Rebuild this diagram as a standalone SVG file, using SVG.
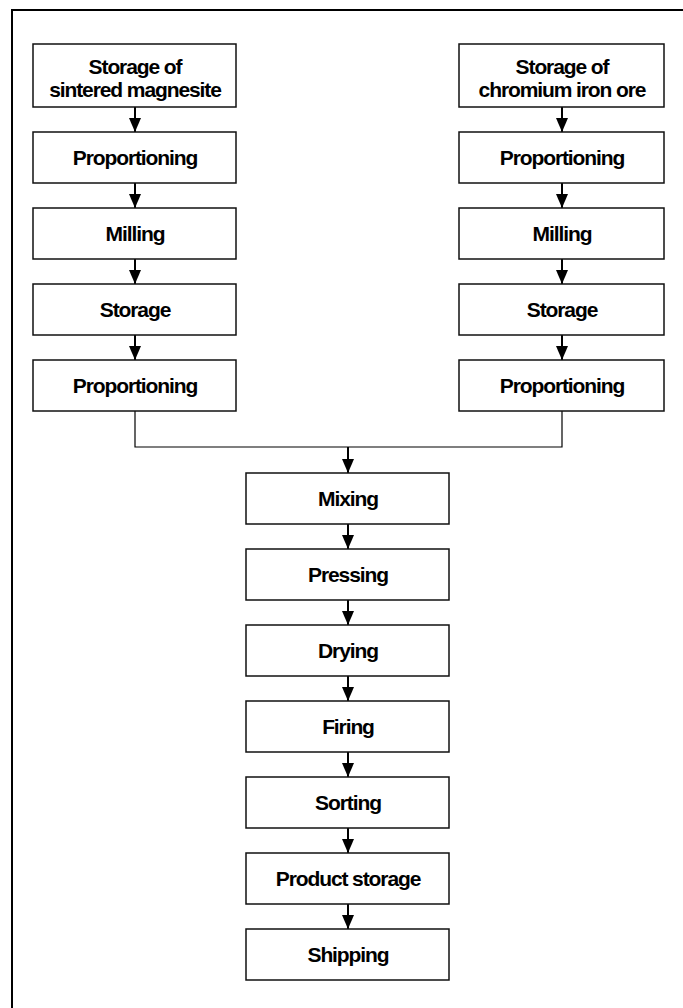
<svg xmlns="http://www.w3.org/2000/svg" width="683" height="1008" viewBox="0 0 683 1008">
<style>
.box{fill:#fff;stroke:#111;stroke-width:1.5}
.lbl{font-family:"Liberation Sans",Arial,sans-serif;font-weight:bold;font-size:21px;letter-spacing:-1.1px;fill:#000;text-anchor:middle}
.arr{stroke:#000;stroke-width:2;fill:none}
.thin{stroke:#000;stroke-width:1.2;fill:none}
</style>
<defs>
<marker id="ah" markerUnits="userSpaceOnUse" markerWidth="14" markerHeight="12" refX="14" refY="6" orient="auto" viewBox="0 0 14 12">
<path d="M0,0 L14,6 L0,12 Z" fill="#000"/>
</marker>
</defs>
<g id="frame">
<line x1="12" y1="10" x2="683" y2="10" stroke="#000" stroke-width="2"/>
<line x1="12" y1="9" x2="12" y2="1008" stroke="#000" stroke-width="2"/>
</g>
<g id="connectors">
<line class="arr" x1="135" y1="107" x2="135" y2="132" marker-end="url(#ah)"/>
<line class="arr" x1="135" y1="183" x2="135" y2="208" marker-end="url(#ah)"/>
<line class="arr" x1="135" y1="259" x2="135" y2="284" marker-end="url(#ah)"/>
<line class="arr" x1="135" y1="335" x2="135" y2="360" marker-end="url(#ah)"/>
<line class="arr" x1="562" y1="107" x2="562" y2="132" marker-end="url(#ah)"/>
<line class="arr" x1="562" y1="183" x2="562" y2="208" marker-end="url(#ah)"/>
<line class="arr" x1="562" y1="259" x2="562" y2="284" marker-end="url(#ah)"/>
<line class="arr" x1="562" y1="335" x2="562" y2="360" marker-end="url(#ah)"/>
<path class="thin" d="M135,411 V447 H562 V411"/>
<line class="arr" x1="348" y1="447" x2="348" y2="473" marker-end="url(#ah)"/>
<line class="arr" x1="348" y1="524" x2="348" y2="549" marker-end="url(#ah)"/>
<line class="arr" x1="348" y1="600" x2="348" y2="625" marker-end="url(#ah)"/>
<line class="arr" x1="348" y1="676" x2="348" y2="701" marker-end="url(#ah)"/>
<line class="arr" x1="348" y1="752" x2="348" y2="777" marker-end="url(#ah)"/>
<line class="arr" x1="348" y1="828" x2="348" y2="853" marker-end="url(#ah)"/>
<line class="arr" x1="348" y1="904" x2="348" y2="929" marker-end="url(#ah)"/>
</g>
<g id="l1"><rect class="box" x="33" y="44" width="203" height="63"/><text class="lbl" x="135" y="74">Storage of</text><text class="lbl" x="135" y="97">sintered magnesite</text></g>
<g id="l2"><rect class="box" x="33" y="132" width="203" height="51"/><text class="lbl" x="135" y="165">Proportioning</text></g>
<g id="l3"><rect class="box" x="33" y="208" width="203" height="51"/><text class="lbl" x="135" y="241">Milling</text></g>
<g id="l4"><rect class="box" x="33" y="284" width="203" height="51"/><text class="lbl" x="135" y="317">Storage</text></g>
<g id="l5"><rect class="box" x="33" y="360" width="203" height="51"/><text class="lbl" x="135" y="393">Proportioning</text></g>
<g id="r1"><rect class="box" x="459" y="44" width="205" height="63"/><text class="lbl" x="562" y="74">Storage of</text><text class="lbl" x="562" y="97">chromium iron ore</text></g>
<g id="r2"><rect class="box" x="459" y="132" width="205" height="51"/><text class="lbl" x="562" y="165">Proportioning</text></g>
<g id="r3"><rect class="box" x="459" y="208" width="205" height="51"/><text class="lbl" x="562" y="241">Milling</text></g>
<g id="r4"><rect class="box" x="459" y="284" width="205" height="51"/><text class="lbl" x="562" y="317">Storage</text></g>
<g id="r5"><rect class="box" x="459" y="360" width="205" height="51"/><text class="lbl" x="562" y="393">Proportioning</text></g>
<g id="c1"><rect class="box" x="246" y="473" width="203" height="51"/><text class="lbl" x="348" y="506">Mixing</text></g>
<g id="c2"><rect class="box" x="246" y="549" width="203" height="51"/><text class="lbl" x="348" y="582">Pressing</text></g>
<g id="c3"><rect class="box" x="246" y="625" width="203" height="51"/><text class="lbl" x="348" y="658">Drying</text></g>
<g id="c4"><rect class="box" x="246" y="701" width="203" height="51"/><text class="lbl" x="348" y="734">Firing</text></g>
<g id="c5"><rect class="box" x="246" y="777" width="203" height="51"/><text class="lbl" x="348" y="810">Sorting</text></g>
<g id="c6"><rect class="box" x="246" y="853" width="203" height="51"/><text class="lbl" x="348" y="886">Product storage</text></g>
<g id="c7"><rect class="box" x="246" y="929" width="203" height="51"/><text class="lbl" x="348" y="962">Shipping</text></g>
</svg>
